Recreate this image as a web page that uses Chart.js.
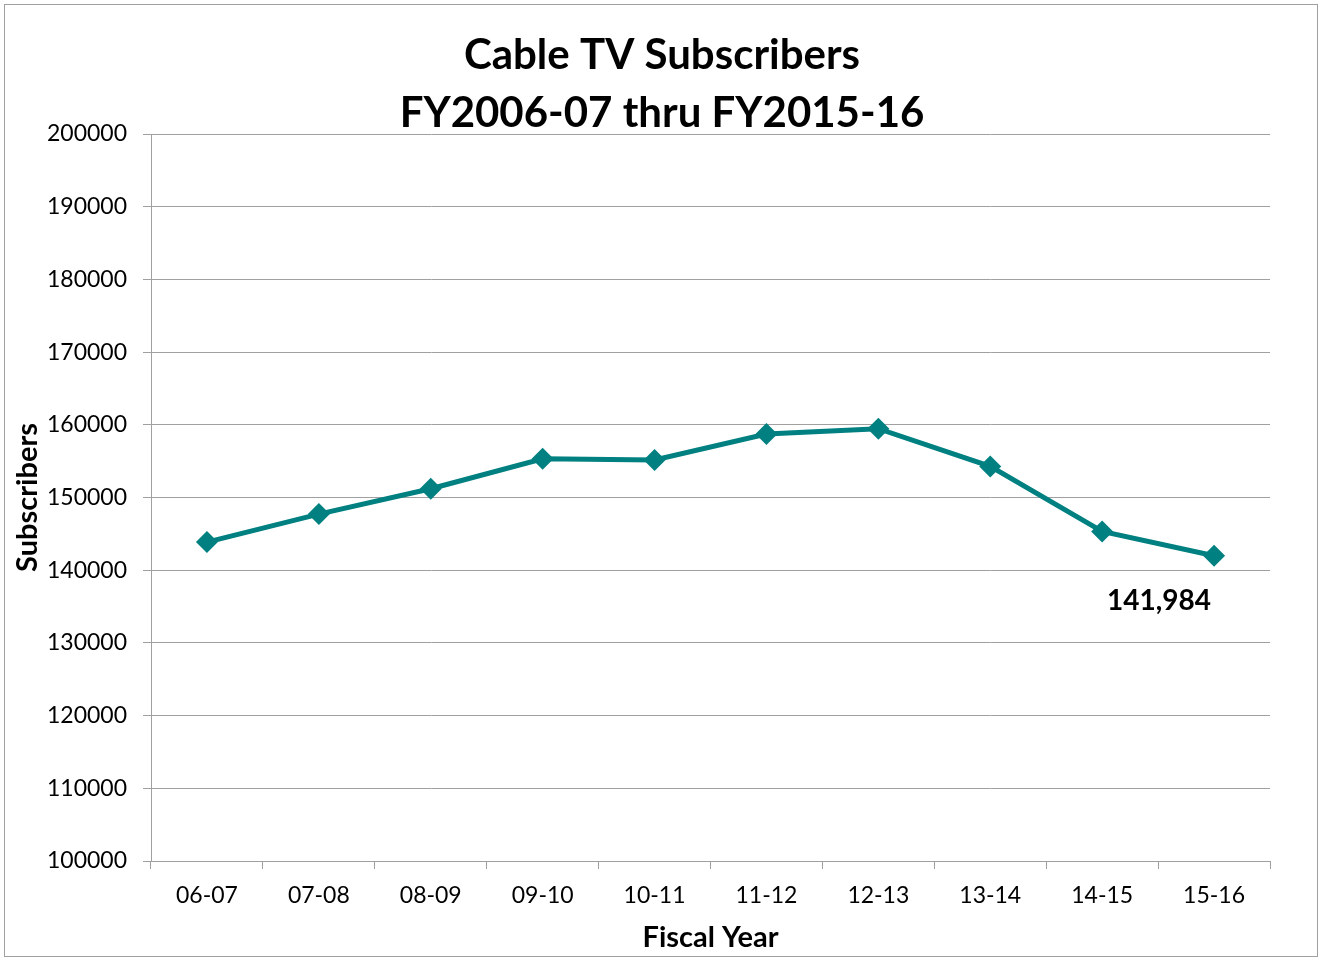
<!DOCTYPE html>
<html>
<head>
<meta charset="utf-8">
<script src="https://cdn.jsdelivr.net/npm/chart.js@4/dist/chart.umd.min.js"></script>
<style>
  html, body { margin: 0; padding: 0; background: #fff; }
  #wrap { width: 1322px; height: 960px; }
</style>
</head>
<body>
<div id="wrap"><canvas id="chart" width="1322" height="960"></canvas></div>
<script>
// Data
const fiscalYears = ['06-07', '07-08', '08-09', '09-10', '10-11', '11-12', '12-13', '13-14', '14-15', '15-16'];
const subscribers = [143870, 147720, 151200, 155330, 155170, 158720, 159470, 154280, 145330, 141984];
const titleLines = ['Cable TV Subscribers', 'FY2006-07 thru FY2015-16'];
const labelIndex = 9; // only the last point carries a data label

const teal = '#008080';
const gray = '#a0a0a0';
const fontFamily = 'Lato, "Open Sans", sans-serif';

// Outer border + title + data label
const decorations = {
  id: 'decorations',
  beforeDraw(chart) {
    const ctx = chart.ctx;
    ctx.save();
    ctx.fillStyle = '#fff';
    ctx.fillRect(0, 0, chart.width, chart.height);
    ctx.strokeStyle = gray;
    ctx.lineWidth = 1;
    ctx.strokeRect(4.5, 4.5, chart.width - 9, chart.height - 8);
    ctx.restore();
  },
  afterDraw(chart) {
    const ctx = chart.ctx;
    const cx = chart.width / 2 + 1;
    ctx.save();
    ctx.fillStyle = '#000';
    ctx.font = 'bold 42px ' + fontFamily;
    ctx.textAlign = 'center';
    ctx.textBaseline = 'middle';
    ctx.fillText(titleLines[0], cx, 55);
    ctx.fillText(titleLines[1], cx, 113);

    const pt = chart.getDatasetMeta(0).data[labelIndex];
    ctx.font = 'bold 28px ' + fontFamily;
    ctx.fillText(subscribers[labelIndex].toLocaleString('en-US'), pt.x - 55, pt.y + 45);
    ctx.restore();
  }
};

const ctx = document.getElementById('chart').getContext('2d');
const chart = new Chart(ctx, {
  type: 'line',
  data: {
    labels: fiscalYears,
    datasets: [{
      label: 'Subscribers',
      data: subscribers,
      borderColor: teal,
      backgroundColor: teal,
      borderWidth: 5,
      tension: 0,
      pointStyle: 'rectRot',
      pointRadius: 11,
      pointHoverRadius: 11,
      pointBackgroundColor: teal,
      pointBorderColor: teal,
      pointBorderWidth: 0
    }]
  },
  options: {
    responsive: false,
    animation: false,
    layout: {
      padding: { top: 134, right: 52, bottom: 5, left: 8 }
    },
    plugins: {
      legend: { display: false },
      title: { display: false },
      tooltip: { enabled: false }
    },
    scales: {
      x: {
        offset: true,
        grid: {
          offset: true,
          drawOnChartArea: false,
          drawTicks: true,
          tickLength: 8,
          color: gray
        },
        border: { display: true, color: gray },
        ticks: {
          color: '#000',
          padding: 13,
          font: { family: fontFamily, size: 23 }
        },
        title: {
          display: true,
          text: 'Fiscal Year',
          color: '#000',
          padding: { top: 5, bottom: 0 },
          font: { family: fontFamily, size: 29, weight: 'bold' }
        },
        afterFit(scale) { scale.height = 94; }
      },
      y: {
        min: 100000,
        max: 200000,
        grid: {
          color: gray,
          drawTicks: true,
          tickLength: 8
        },
        border: { display: true, color: gray },
        ticks: {
          stepSize: 10000,
          color: '#000',
          padding: 16,
          font: { family: fontFamily, size: 23 },
          callback: v => String(v)
        },
        title: {
          display: true,
          text: 'Subscribers',
          color: '#000',
          padding: { top: 2, bottom: 0 },
          font: { family: fontFamily, size: 29, weight: 'bold' }
        },
        afterFit(scale) { scale.width = 143; }
      }
    }
  },
  plugins: [decorations]
});
</script>
</body>
</html>
